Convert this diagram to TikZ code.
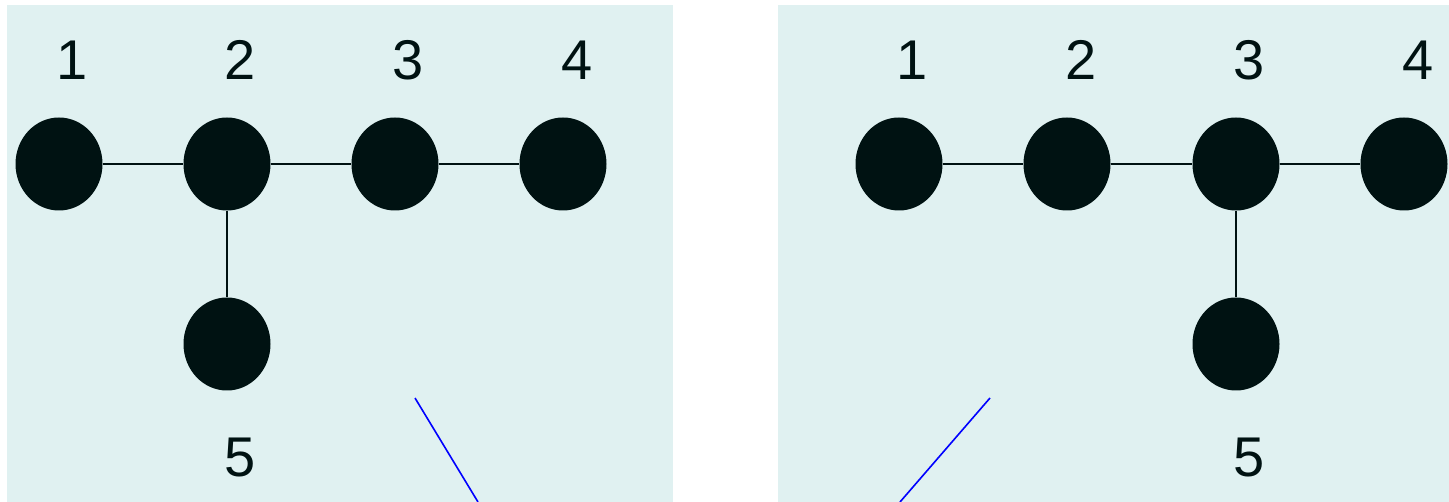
\documentclass[tikz,border=0pt]{standalone}
\usepackage{fontspec}
\setmainfont{Liberation Sans}
\usetikzlibrary{shapes.geometric}
\definecolor{panelbg}{HTML}{E0F1F1}
\definecolor{dotfill}{HTML}{001212}
\tikzset{
  dot/.style={ellipse, fill=dotfill, draw=none, minimum width=87pt, minimum height=93pt, inner sep=0pt},
  lbl/.style={font=\fontsize{56}{60}\selectfont, text=dotfill, inner sep=0pt},
  edge/.style={draw=dotfill, line width=1.6pt},
  blueline/.style={draw=blue, line width=1.6pt}
}
\begin{document}
\begin{tikzpicture}[x=1pt,y=-1pt]
\useasboundingbox (0,0) rectangle (1449,502);
\fill[panelbg] (7,5) rectangle (673,502);
\fill[panelbg] (778,5) rectangle (1449,502);
% left panel
\node[dot] (a1) at (59,164) {};
\node[dot] (a2) at (227,164) {};
\node[dot] (a3) at (395,164) {};
\node[dot] (a4) at (563,164) {};
\node[dot] (a5) at (227,344) {};
\draw[edge] (a1) -- (a2);
\draw[edge] (a2) -- (a3);
\draw[edge] (a3) -- (a4);
\draw[edge] (a2) -- (a5);
\node[lbl] (la1) at (72,60) {1};
\node[lbl] (la2) at (240,60) {2};
\node[lbl] (la3) at (408,60) {3};
\node[lbl] (la4) at (577,60) {4};
\node[lbl] (la5) at (240,458) {5};
\coordinate (ba) at (415,398);
\coordinate (bb) at (478,502);
\draw[blueline] (ba) -- (bb);
% right panel
\node[dot] (b1) at (899,164) {};
\node[dot] (b2) at (1067,164) {};
\node[dot] (b3) at (1236,164) {};
\node[dot] (b4) at (1404,164) {};
\node[dot] (b5) at (1236,344) {};
\draw[edge] (b1) -- (b2);
\draw[edge] (b2) -- (b3);
\draw[edge] (b3) -- (b4);
\draw[edge] (b3) -- (b5);
\node[lbl] (lb1) at (912,60) {1};
\node[lbl] (lb2) at (1081,60) {2};
\node[lbl] (lb3) at (1249,60) {3};
\node[lbl] (lb4) at (1418,60) {4};
\node[lbl] (lb5) at (1249,458) {5};
\coordinate (bc) at (990,398);
\coordinate (bd) at (900,502);
\draw[blueline] (bc) -- (bd);
\end{tikzpicture}
\end{document}
